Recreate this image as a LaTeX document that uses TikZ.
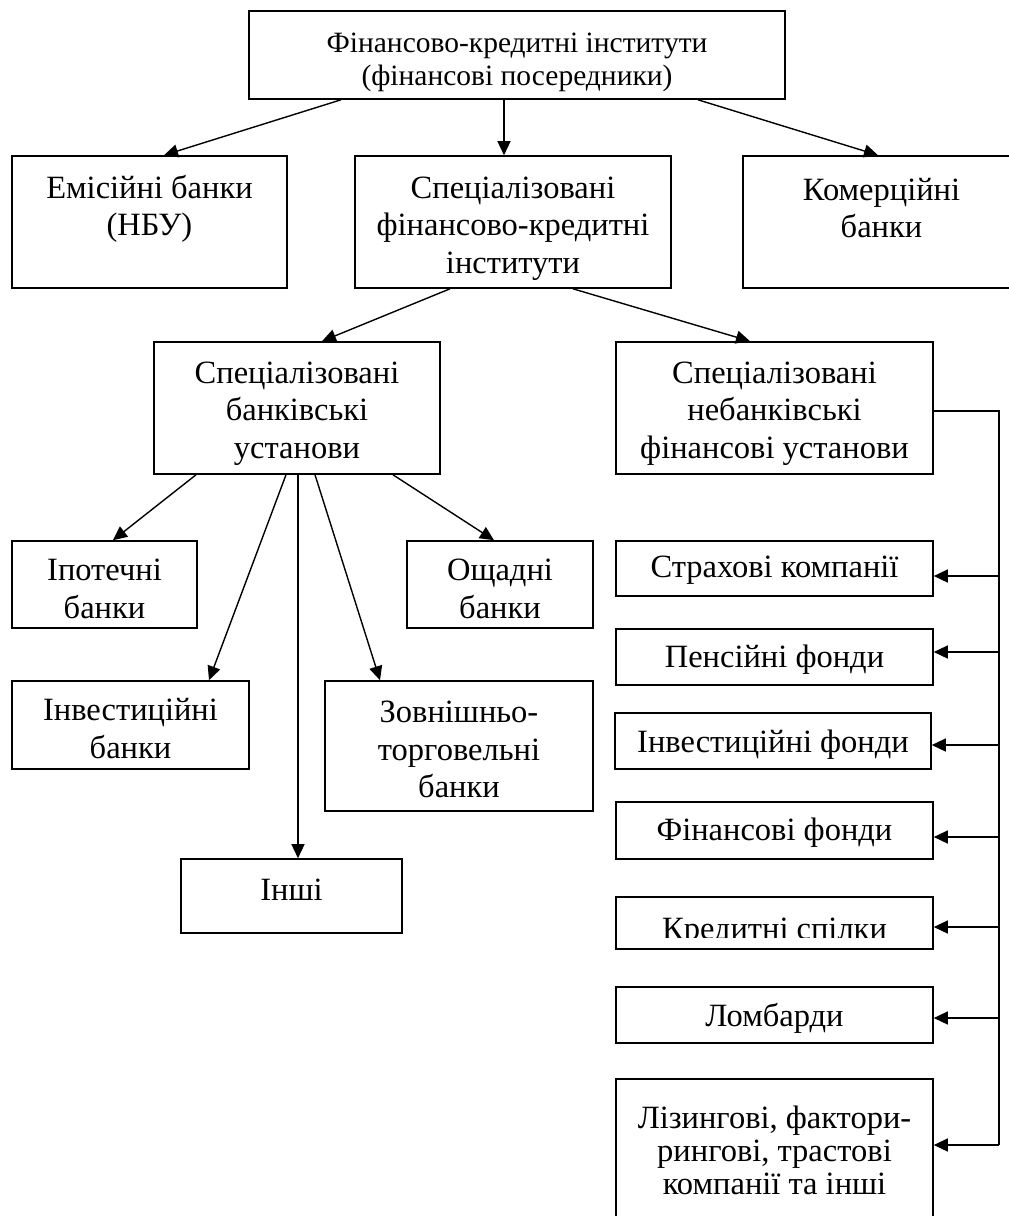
\documentclass[tikz,border=0pt]{standalone}
\usepackage{fontspec}
\setmainfont{Liberation Serif}
\usetikzlibrary{arrows.meta}
\tikzset{
  frame/.style={draw, line width=1.6pt, inner sep=0pt},
  txt/.style={inner sep=0pt, align=center, font=\fontsize{32.5}{37.5}\selectfont},
  toptxt/.style={inner sep=0pt, align=center, font=\fontsize{29.5}{33}\selectfont},
  arr/.style={line width=1.4pt, -{Triangle[length=14pt,width=13pt]}},
  ln/.style={line width=1.4pt},
}
\begin{document}
\begin{tikzpicture}[x=1pt,y=-1pt]
\useasboundingbox (0,0) rectangle (1009,1216);
\clip (0,0) rectangle (1009,1216);
\fill[white] (0,0) rectangle (1009,1216);
% ---------- frames ----------
\node[frame, minimum width=536pt, minimum height=88pt] (top) at (517,55) {};
\node[frame, minimum width=275pt, minimum height=132pt] (emis) at (149.5,222) {};
\node[frame, minimum width=316pt, minimum height=132pt] (spec) at (513,222) {};
\node[frame, minimum width=277pt, minimum height=132pt] (comm) at (881.5,222) {};
\node[frame, minimum width=286pt, minimum height=132pt] (bank) at (297,408) {};
\node[frame, minimum width=317pt, minimum height=132pt] (nonbank) at (774.5,408) {};
\node[frame, minimum width=185pt, minimum height=87pt] (ipot) at (104.5,584.5) {};
\node[frame, minimum width=186pt, minimum height=87pt] (oshch) at (500,584.5) {};
\node[frame, minimum width=237pt, minimum height=88pt] (invb) at (130.5,725) {};
\node[frame, minimum width=268pt, minimum height=130pt] (zovn) at (459,746) {};
\node[frame, minimum width=221pt, minimum height=74pt] (inshi) at (291.5,896) {};
\node[frame, minimum width=317pt, minimum height=55pt] (strakh) at (774.5,568.5) {};
\node[frame, minimum width=317pt, minimum height=56pt] (pens) at (774.5,657) {};
\node[frame, minimum width=316pt, minimum height=56pt] (invf) at (773,741) {};
\node[frame, minimum width=317pt, minimum height=57pt] (finf) at (774.5,830.5) {};
\node[frame, minimum width=317pt, minimum height=52pt] (kred) at (774.5,923) {};
\node[frame, minimum width=317pt, minimum height=56pt] (lomb) at (774.5,1015) {};
\node[frame, minimum width=317pt, minimum height=146pt] (liz) at (774.5,1152) {};
% ---------- texts ----------
\node[toptxt] (topT) at ([yshift=-7pt]top.center)
  {Фінансово-кредитні інститути\\(фінансові посередники)};
\node[txt] (emisT) at ([yshift=13pt]emis.center) {Емісійні банки\\(НБУ)};
\node[txt] (specT) at ([yshift=-6.5pt]spec.center)
  {Спеціалізовані\\фінансово-кредитні\\інститути};
\node[txt] (commT) at ([yshift=14pt]comm.center) {Комерційні\\банки};
\node[txt] (bankT) at ([yshift=-5.5pt]bank.center)
  {Спеціалізовані\\банківські\\установи};
\node[txt] (nonbankT) at ([yshift=-5.5pt]nonbank.center)
  {Спеціалізовані\\небанківські\\фінансові установи};
\node[txt] (ipotT) at ([yshift=-4.5pt]ipot.center) {Іпотечні\\банки};
\node[txt] (oshchT) at ([yshift=-4.5pt]oshch.center) {Ощадні\\банки};
\node[txt] (invbT) at ([yshift=-3.5pt]invb.center) {Інвестиційні\\банки};
\node[txt] (zovnT) at ([yshift=-3.5pt]zovn.center)
  {Зовнішньо-\\торговельні\\банки};
\node[txt] (inshiT) at ([yshift=6pt]inshi.center) {Інші};
\node[txt] (strakhT) at ([yshift=-1.5pt]strakh.center) {Страхові компанії};
\node[txt] (pensT) at ([yshift=-3pt]pens.center) {Пенсійні фонди};
\node[txt] (invfT) at ([yshift=-4pt]invf.center) {Інвестиційні фонди};
\node[txt] (finfT) at ([yshift=-2.5pt]finf.center) {Фінансові фонди};
\begin{scope}
  \clip ([xshift=1pt]kred.north west) rectangle ([yshift=12pt]kred.south east);
  \node[txt] (kredT) at ([yshift=-9pt]kred.center) {Кредитні спілки};
\end{scope}
\node[txt] (lombT) at ([yshift=-3pt]lomb.center) {Ломбарди};
\node[txt, font=\fontsize{32.5}{33}\selectfont] (lizT) at ([yshift=2pt]liz.center)
  {Лізингові, фактори-\\рингові, трастові\\компанії та інші};
% ---------- connectors ----------
\draw[arr] ([xshift=-176pt]top.south) -- ([xshift=14.5pt]emis.north);
\draw[arr] ([xshift=-13pt]top.south) -- ([xshift=-9pt]spec.north);
\draw[arr] ([xshift=181pt]top.south) -- ([xshift=-3.5pt]comm.north);
\draw[arr] ([xshift=-63pt]spec.south) -- ([xshift=25pt]bank.north);
\draw[arr] ([xshift=60pt]spec.south) -- ([xshift=-24.5pt]nonbank.north);
\draw[arr] ([xshift=-101pt]bank.south) -- ([xshift=8.5pt]ipot.north);
\draw[arr] ([xshift=96pt]bank.south) -- ([xshift=-6pt]oshch.north);
\draw[arr] ([xshift=-11pt]bank.south) -- ([xshift=78.5pt]invb.north);
\draw[arr] ([xshift=1pt]bank.south) -- ([xshift=6.5pt]inshi.north);
\draw[arr] ([xshift=18pt]bank.south) -- ([xshift=-79pt]zovn.north);
% bus on the right
\coordinate (busend) at (999,1145);
\draw[ln] ([yshift=-3pt]nonbank.east) -| (busend);
\draw[arr] ([yshift=-7.5pt]strakh.east -| busend) -- ([yshift=-7.5pt]strakh.east);
\draw[arr] ([yshift=5pt]pens.east -| busend) -- ([yshift=5pt]pens.east);
\draw[arr] ([yshift=-4pt]invf.east -| busend) -- ([yshift=-4pt]invf.east);
\draw[arr] ([yshift=-6.5pt]finf.east -| busend) -- ([yshift=-6.5pt]finf.east);
\draw[arr] ([yshift=-4pt]kred.east -| busend) -- ([yshift=-4pt]kred.east);
\draw[arr] ([yshift=-3pt]lomb.east -| busend) -- ([yshift=-3pt]lomb.east);
\draw[arr] (busend) -- (busend -| liz.east);
\end{tikzpicture}
\end{document}
